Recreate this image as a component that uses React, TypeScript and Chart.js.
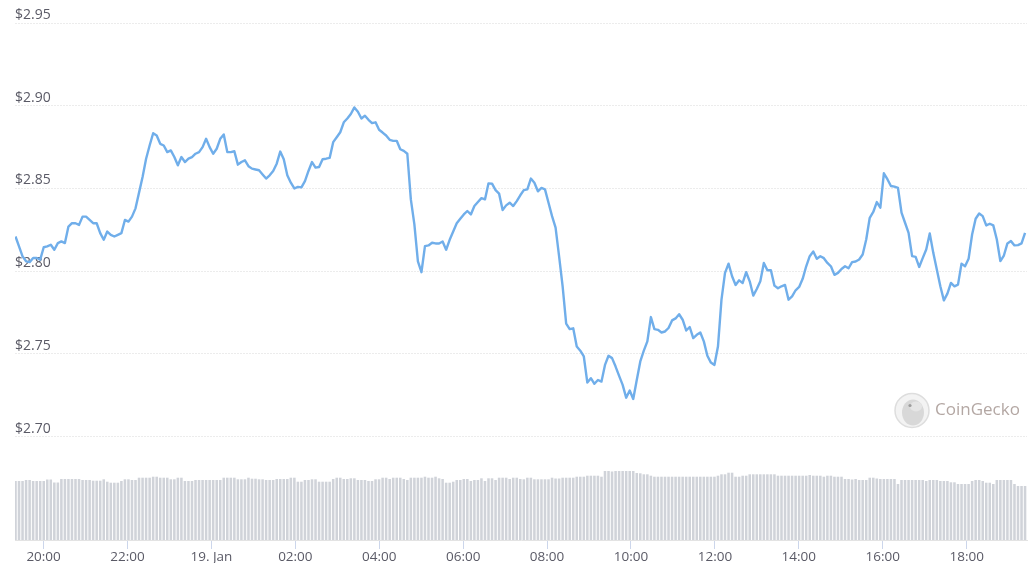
import React, { useEffect, useRef } from "react";
import { Chart, registerables } from "chart.js";

Chart.register(...registerables);

// Time in minutes counted from 18 Jan 00:00; samples roughly every 5 minutes
const START_MIN = 1159.8; // 18 Jan ~19:20
const STEP_MIN = 5.048;
const X_MIN = 1159.1;
const X_MAX = 2606.3;

// Price in USD
const prices: number[] = [
  2.821, 2.815, 2.809, 2.806, 2.8055, 2.808, 2.808, 2.807, 2.8145, 2.815, 2.816, 2.813, 2.817, 2.818, 2.817, 2.827, 2.829, 2.829, 2.828, 2.833,
  2.833, 2.831, 2.829, 2.829, 2.823, 2.819, 2.824, 2.822, 2.821, 2.822, 2.823, 2.831, 2.83, 2.833, 2.838, 2.8475, 2.857, 2.868, 2.876, 2.8834,
  2.882, 2.877, 2.876, 2.872, 2.873, 2.869, 2.864, 2.869, 2.866, 2.868, 2.869, 2.871, 2.872, 2.875, 2.88, 2.875, 2.871, 2.874, 2.88, 2.8826,
  2.872, 2.872, 2.8725, 2.8644, 2.866, 2.867, 2.8635, 2.862, 2.8615, 2.861, 2.8585, 2.856, 2.858, 2.8606, 2.865, 2.8723, 2.8677, 2.858, 2.8535, 2.85,
  2.851, 2.8507, 2.8545, 2.8606, 2.866, 2.8626, 2.863, 2.8677, 2.868, 2.8685, 2.878, 2.881, 2.884, 2.89, 2.8923, 2.895, 2.899, 2.8964, 2.8923, 2.894,
  2.8915, 2.8895, 2.89, 2.8855, 2.8838, 2.882, 2.8794, 2.8788, 2.8788, 2.8737, 2.8727, 2.871, 2.8434, 2.8283, 2.806, 2.7994, 2.8152, 2.8156, 2.8172, 2.8168,
  2.8168, 2.818, 2.813, 2.819, 2.824, 2.829, 2.8317, 2.8343, 2.8364, 2.8343, 2.8394, 2.8418, 2.8442, 2.8434, 2.8531, 2.8529, 2.849, 2.8469, 2.837, 2.8398,
  2.8414, 2.8394, 2.8424, 2.8459, 2.849, 2.8495, 2.856, 2.8535, 2.8483, 2.8503, 2.8495, 2.8414, 2.8333, 2.8263, 2.809, 2.7909, 2.7683, 2.765, 2.7655, 2.7545,
  2.752, 2.7485, 2.7327, 2.7354, 2.732, 2.7343, 2.7333, 2.7434, 2.7489, 2.7475, 2.7424, 2.7368, 2.7313, 2.7236, 2.7279, 2.7228, 2.7343, 2.7455, 2.752, 2.7576,
  2.7723, 2.765, 2.7646, 2.763, 2.7636, 2.7657, 2.7703, 2.7715, 2.774, 2.7707, 2.7642, 2.7663, 2.7596, 2.7616, 2.763, 2.7576, 2.7489, 2.7448, 2.7434, 2.7545,
  2.7828, 2.799, 2.8046, 2.797, 2.7917, 2.7945, 2.7929, 2.7994, 2.7939, 2.7853, 2.7893, 2.7939, 2.805, 2.8006, 2.8006, 2.7913, 2.7897, 2.7909, 2.7917, 2.7828,
  2.7848, 2.7885, 2.7905, 2.7954, 2.803, 2.8091, 2.8119, 2.8075, 2.8091, 2.8079, 2.805, 2.803, 2.7978, 2.799, 2.8014, 2.803, 2.8018, 2.8055, 2.8059, 2.8071,
  2.8101, 2.8192, 2.8323, 2.8358, 2.8418, 2.8384, 2.8592, 2.8556, 2.8515, 2.8511, 2.8503, 2.8354, 2.8293, 2.8232, 2.8091, 2.8087, 2.8026, 2.8079, 2.8131, 2.8228,
  2.8111, 2.801, 2.7909, 2.7824, 2.7865, 2.7929, 2.7909, 2.7919, 2.8046, 2.803, 2.8075, 2.8222, 2.8317, 2.8349, 2.8333, 2.8277, 2.8287, 2.8277, 2.8192, 2.8061,
  2.8095, 2.8168, 2.8182, 2.8156, 2.8158, 2.8168, 2.8232,
];

// 24h trading volume (billion USD, estimated)
const volumes: number[] = [
  5.9, 5.9, 5.9, 6.0, 6.0, 5.9, 5.9, 5.9, 5.9, 6.05, 6.05, 5.75, 5.75, 6.1, 6.1, 6.1, 6.1, 6.1, 6.1, 6.0,
  6.0, 6.0, 5.93, 5.93, 5.93, 6.07, 5.83, 5.73, 5.73, 5.73, 5.9, 6.07, 6.07, 6.0, 6.0, 6.23, 6.23, 6.23, 6.23, 6.33,
  6.33, 6.23, 6.23, 6.23, 6.07, 6.07, 6.23, 6.23, 5.9, 5.9, 5.9, 6.0, 6.0, 6.0, 6.0, 6.0, 6.0, 6.0, 6.0, 6.23,
  6.23, 6.23, 6.23, 6.07, 6.07, 6.07, 6.23, 6.13, 6.13, 6.07, 6.07, 6.0, 6.0, 6.0, 6.1, 6.1, 6.1, 6.1, 6.23, 6.23,
  5.83, 5.83, 6.0, 6.0, 6.07, 6.07, 5.83, 5.83, 5.83, 5.83, 6.1, 6.23, 6.23, 6.1, 6.1, 6.17, 6.17, 6.0, 6.0, 6.0,
  5.9, 5.9, 6.07, 6.07, 6.23, 6.23, 6.1, 6.23, 6.23, 6.23, 6.1, 6.0, 6.23, 6.23, 6.23, 6.23, 6.33, 6.23, 6.23, 6.33,
  6.17, 6.1, 5.73, 5.73, 5.83, 6.0, 6.0, 6.1, 6.1, 5.9, 6.0, 6.0, 6.17, 5.9, 6.17, 6.17, 6.0, 6.23, 6.23, 6.23,
  6.1, 6.23, 6.23, 6.1, 6.07, 6.23, 6.23, 6.07, 6.07, 6.07, 6.07, 6.07, 6.23, 6.15, 6.15, 6.23, 6.23, 6.23, 6.23, 6.33,
  6.33, 6.33, 6.43, 6.43, 6.43, 6.43, 6.33, 6.9, 6.9, 6.85, 6.9, 6.9, 6.9, 6.9, 6.9, 6.9, 6.7, 6.67, 6.57, 6.57,
  6.43, 6.33, 6.33, 6.33, 6.33, 6.33, 6.33, 6.33, 6.33, 6.33, 6.33, 6.33, 6.33, 6.33, 6.33, 6.33, 6.33, 6.33, 6.33, 6.43,
  6.57, 6.57, 6.73, 6.73, 6.33, 6.33, 6.43, 6.43, 6.57, 6.57, 6.57, 6.57, 6.57, 6.57, 6.57, 6.57, 6.43, 6.43, 6.43, 6.43,
  6.43, 6.43, 6.43, 6.43, 6.43, 6.5, 6.43, 6.43, 6.43, 6.33, 6.43, 6.43, 6.33, 6.33, 6.33, 6.1, 6.1, 6.05, 6.1, 6.0,
  6.0, 6.0, 6.23, 6.23, 6.15, 6.1, 6.1, 6.1, 6.1, 6.1, 5.6, 6.0, 6.0, 6.0, 6.0, 6.0, 6.0, 6.0, 5.9, 6.0,
  6.0, 6.0, 5.9, 5.9, 5.9, 5.77, 5.77, 5.6, 5.6, 5.6, 5.6, 5.9, 6.0, 6.0, 5.9, 5.73, 5.73, 5.6, 6.0, 6.0,
  6.0, 6.0, 6.0, 5.6, 5.4, 5.4, 5.4,
];

const priceTicks: number[] = [2.7, 2.75, 2.8, 2.85, 2.9, 2.95];
const timeTicks: number[] = [1200, 1320, 1440, 1560, 1680, 1800, 1920, 2040, 2160, 2280, 2400, 2520];
const timeTickLabels: string[] = ["20:00", "22:00", "19. Jan", "02:00", "04:00", "06:00", "08:00", "10:00", "12:00", "14:00", "16:00", "18:00"];

const PRICE_MIN = 2.6376;
const PRICE_MAX = 2.95;
const VOLUME_MAX = 51.7;

const LABEL_FONT = { family: '"Open Sans", "Liberation Sans", sans-serif', size: 13.5 };

const watermarkPlugin = {
  id: "coingeckoWatermark",
  beforeDatasetsDraw(chart: any) {
    const ctx = chart.ctx as CanvasRenderingContext2D;
    const cx = 904;
    const cy = 402.5;
    ctx.save();
    ctx.beginPath();
    ctx.arc(cx, cy, 17, 0, Math.PI * 2);
    ctx.fillStyle = "rgba(242,242,242,0.9)";
    ctx.fill();
    ctx.lineWidth = 1.5;
    ctx.strokeStyle = "rgba(218,218,218,0.9)";
    ctx.stroke();
    // gecko head
    ctx.beginPath();
    ctx.ellipse(cx + 1, cy + 2, 11, 13, 0, 0, Math.PI * 2);
    ctx.fillStyle = "rgba(212,212,212,0.85)";
    ctx.fill();
    ctx.beginPath();
    ctx.ellipse(cx + 4, cy - 4, 6, 5, 0, 0, Math.PI * 2);
    ctx.fillStyle = "rgba(230,230,230,0.95)";
    ctx.fill();
    ctx.beginPath();
    ctx.arc(cx - 2, cy - 5, 1.6, 0, Math.PI * 2);
    ctx.fillStyle = "rgba(150,150,150,0.9)";
    ctx.fill();
    ctx.font = '17px "Open Sans", "Liberation Sans", sans-serif';
    ctx.fillStyle = "rgba(160,145,140,0.8)";
    ctx.textBaseline = "middle";
    ctx.textAlign = "left";
    ctx.fillText("CoinGecko", 927, 402);
    ctx.restore();
  },
};

export default function App() {
  const canvasRef = useRef<HTMLCanvasElement | null>(null);

  useEffect(() => {
    const canvas = canvasRef.current;
    if (!canvas) return;
    const times = prices.map((_, i) => START_MIN + i * STEP_MIN);
    const chart = new Chart(canvas, {
      type: "bar",
      data: {
        datasets: [
          {
            type: "line",
            label: "Price",
            data: times.map((t, i) => ({ x: t, y: prices[i] })),
            yAxisID: "y",
            borderColor: "#70aeea",
            borderWidth: 2.4,
            borderJoinStyle: "round",
            pointRadius: 0,
            tension: 0,
            fill: false,
            order: 0,
          } as any,
          {
            type: "bar",
            label: "Volume",
            data: times.map((t, i) => ({ x: t, y: volumes[i] })),
            yAxisID: "y1",
            backgroundColor: "#d0d3d9",
            barPercentage: 0.72,
            categoryPercentage: 1,
            order: 1,
          } as any,
        ],
      },
      options: {
        animation: false,
        responsive: false,
        maintainAspectRatio: false,
        layout: { padding: { top: 15, left: 7, right: 1, bottom: 0 } },
        plugins: { legend: { display: false }, tooltip: { enabled: false } },
        scales: {
          x: {
            type: "linear",
            min: X_MIN,
            max: X_MAX,
            offset: false,
            afterBuildTicks: (scale: any) => {
              scale.ticks = timeTicks.map((v) => ({ value: v }));
            },
            afterFit: (scale: any) => {
              scale.height = 23;
            },
            ticks: {
              autoSkip: false,
              maxRotation: 0,
              minRotation: 0,
              padding: 0,
              color: "#5a5a66",
              font: LABEL_FONT,
              callback: (value: any) => {
                const idx = timeTicks.indexOf(Number(value));
                return idx >= 0 ? timeTickLabels[idx] : "";
              },
            },
            grid: {
              offset: false,
              drawOnChartArea: false,
              drawTicks: true,
              tickLength: 9,
              color: "#ccd6eb",
            },
            border: { display: true, color: "#e3e3e3" },
          },
          y: {
            type: "linear",
            position: "left",
            min: PRICE_MIN,
            max: PRICE_MAX,
            afterBuildTicks: (scale: any) => {
              scale.ticks = priceTicks.map((v) => ({ value: v }));
            },
            ticks: {
              mirror: true,
              padding: 0,
              labelOffset: -8,
              color: "#5a5a66",
              font: { ...LABEL_FONT, size: 14 },
              callback: (value: any) => "$" + Number(value).toFixed(2),
            },
            grid: { color: "#ececec", drawTicks: false, lineWidth: 1 },
            border: { display: false, dash: [2, 1] },
          },
          y1: {
            type: "linear",
            position: "right",
            display: false,
            min: 0,
            max: VOLUME_MAX,
            grid: { display: false },
          },
        },
      } as any,
      plugins: [watermarkPlugin],
    });
    return () => chart.destroy();
  }, []);

  return (
    <div style={{ width: 1020, height: 555, position: "relative" }}>
      <canvas ref={canvasRef} width={1020} height={555} style={{ display: "block" }} />
    </div>
  );
}
